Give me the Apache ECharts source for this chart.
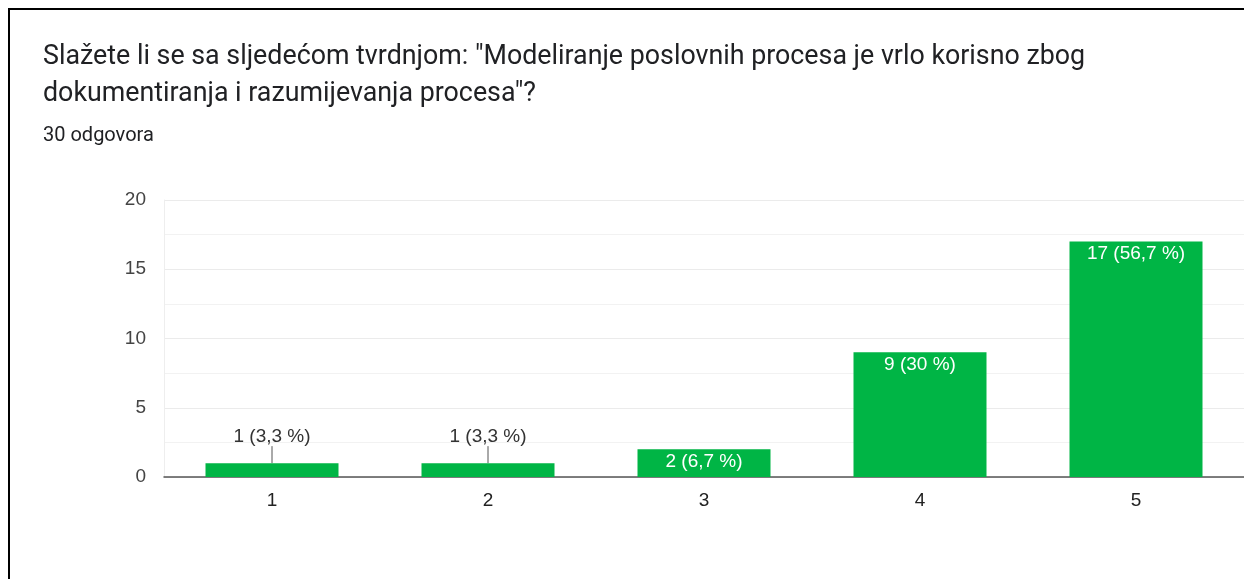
<!DOCTYPE html>
<html>
<head>
<meta charset="utf-8">
<script src="https://cdn.jsdelivr.net/npm/echarts@6/dist/echarts.min.js"></script>
<style>
    html, body { margin: 0; padding: 0; background: #fff; }
    #chart { width: 1244px; height: 579px; }
</style>
</head>
<body>
<div id="chart"></div>
<script>
// podaci
var categories = ['1', '2', '3', '4', '5'];
var values = [1, 1, 2, 9, 17];
var totalAnswers = 30;
var yTicks = [0, 5, 10, 15, 20];

(function () {
    var chart = echarts.init(document.getElementById('chart'));

    function pct(v) {
        var p = Math.round(v / totalAnswers * 1000) / 10;
        return String(p).replace('.', ',');
    }

    // mali stupci dobivaju oznaku iznad, s linijom
    var barData = values.map(function (v) {
        var outside = v < 2;
        return {
            value: v,
            label: outside ? {
                position: 'top',
                color: '#333',
                distance: 5
            } : {
                position: 'insideTop',
                color: '#fff',
                distance: 3
            },
            labelLine: { show: outside }
        };
    });

    var option = {
        backgroundColor: '#fff',
        title: {
            left: 38,
            top: 34,
            text: 'Slažete li se sa sljedećom tvrdnjom: "Modeliranje poslovnih procesa je vrlo korisno zbog\ndokumentiranja i razumijevanja procesa"?',
            subtext: '30 odgovora',
            itemGap: 13,
            textStyle: {
                fontFamily: 'Roboto',
                fontSize: 26.8,
                fontWeight: 'normal',
                color: '#202124',
                lineHeight: 37
            },
            subtextStyle: {
                fontFamily: 'Roboto',
                fontSize: 20,
                color: '#202124'
            }
        },
        graphic: [
            { type: 'line', shape: { x1: 8, y1: 9, x2: 1244, y2: 9 }, style: { stroke: '#000', lineWidth: 2 } },
            { type: 'line', shape: { x1: 9, y1: 8, x2: 9, y2: 579 }, style: { stroke: '#000', lineWidth: 2 } }
        ],
        grid: {
            left: 164,
            right: 0,
            top: 200,
            bottom: 102
        },
        xAxis: {
            type: 'category',
            data: categories,
            axisTick: { show: false },
            axisLine: { lineStyle: { color: '#555', width: 1.5 } },
            axisLabel: {
                margin: 14,
                fontFamily: 'Liberation Sans',
                fontSize: 19,
                color: '#222'
            }
        },
        yAxis: {
            type: 'value',
            min: yTicks[0],
            max: yTicks[yTicks.length - 1],
            interval: 5,
            axisLine: { show: true, lineStyle: { color: '#eee' } },
            axisTick: { show: false },
            axisLabel: {
                margin: 18,
                fontFamily: 'Liberation Sans',
                fontSize: 19,
                color: '#444'
            },
            splitLine: { lineStyle: { color: '#ebebeb' } },
            minorTick: { show: false, splitNumber: 2 },
            minorSplitLine: { show: true, lineStyle: { color: '#f2f2f2' } }
        },
        series: [
            {
                type: 'bar',
                data: barData,
                barWidth: 133,
                itemStyle: { color: '#00b545' },
                label: {
                    show: true,
                    fontFamily: 'Liberation Sans',
                    fontSize: 19,
                    formatter: function (p) {
                        return p.value + ' (' + pct(p.value) + ' %)';
                    }
                },
                labelLine: {
                    lineStyle: { color: '#555', width: 1 }
                },
                labelLayout: function (params) {
                    if (values[params.dataIndex] < 2) {
                        return { dy: -12 };
                    }
                    return {};
                },
                animation: false
            }
        ]
    };
    chart.setOption(option);
})();
</script>
</body>
</html>
